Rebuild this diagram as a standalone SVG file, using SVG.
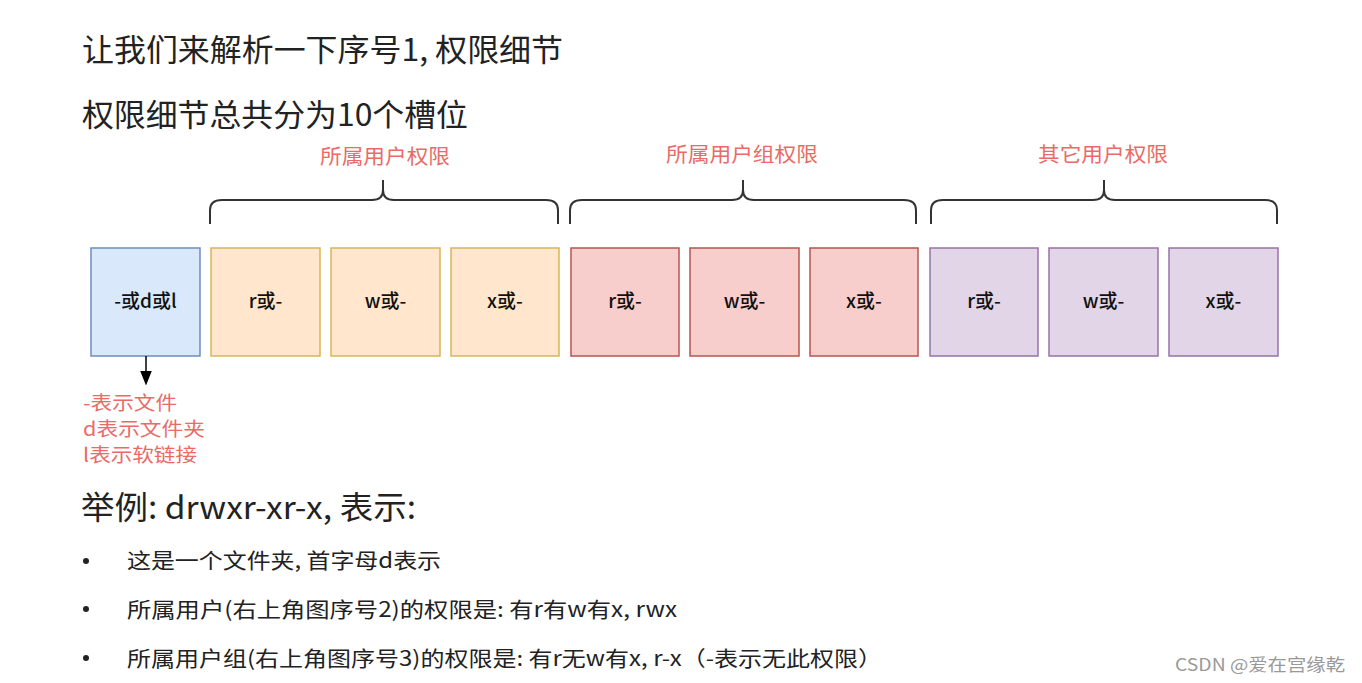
<svg xmlns="http://www.w3.org/2000/svg" width="1362" height="683" viewBox="0 0 1362 683">
<style>
text{font-family:"Noto Sans CJK SC","Noto Sans",sans-serif}
.t{font-size:31px;fill:#222}
.bl{font-size:19px;fill:#111;text-anchor:middle;font-weight:500}
.lab{font-size:20px;fill:#ea6b66;text-anchor:middle}
.note{font-size:19px;fill:#ea6b66}
.b{font-size:21px;fill:#222}
.br{fill:none;stroke:#333;stroke-width:2}
.k0{fill:#dae8fc;stroke:#6c8ebf;stroke-width:1.5}
.k1{fill:#ffe6cc;stroke:#d6b656;stroke-width:1.5}
.k2{fill:#f8cecc;stroke:#b85450;stroke-width:1.5}
.k3{fill:#e1d5e7;stroke:#9673a6;stroke-width:1.5}
</style>
<defs><marker id="ar" markerWidth="10" markerHeight="10" refX="5" refY="5" orient="auto"><path d="M0,1 L10,5 L0,9 Z" fill="#000"/></marker></defs>
<rect width="1362" height="683" fill="#fff"/>
<text class="t" x="82" y="61" textLength="481" lengthAdjust="spacingAndGlyphs">让我们来解析一下序号1, 权限细节</text>
<text class="t" x="82" y="126" textLength="386" lengthAdjust="spacingAndGlyphs">权限细节总共分为10个槽位</text>
<g id="braces">
<path class="br" d="M210,224 V210 Q210,200 222,200 H372 Q383,200 383,190 V180 M383,190 Q383,200 394,200 H546 Q558,200 558,210 V224"/>
<path class="br" d="M570,224 V210 Q570,200 582,200 H732 Q743,200 743,190 V180 M743,190 Q743,200 754,200 H904 Q916,200 916,210 V224"/>
<path class="br" d="M931,224 V210 Q931,200 943,200 H1093 Q1104,200 1104,190 V180 M1104,190 Q1104,200 1115,200 H1265 Q1277,200 1277,210 V224"/>
<text class="lab" x="385" y="164" textLength="130" lengthAdjust="spacingAndGlyphs">所属用户权限</text>
<text class="lab" x="742" y="162" textLength="152" lengthAdjust="spacingAndGlyphs">所属用户组权限</text>
<text class="lab" x="1103" y="162" textLength="130" lengthAdjust="spacingAndGlyphs">其它用户权限</text>
</g>
<g id="n0"><rect class="k0" x="91" y="248" width="109" height="108"/><text class="bl" x="145.5" y="308">-或d或l</text></g>
<g id="n1"><rect class="k1" x="211" y="248" width="109" height="108"/><text class="bl" x="265.5" y="308">r或-</text></g>
<g id="n2"><rect class="k1" x="331" y="248" width="109" height="108"/><text class="bl" x="385.5" y="308">w或-</text></g>
<g id="n3"><rect class="k1" x="451" y="248" width="108" height="108"/><text class="bl" x="505" y="308">x或-</text></g>
<g id="n4"><rect class="k2" x="571" y="248" width="108" height="108"/><text class="bl" x="625" y="308">r或-</text></g>
<g id="n5"><rect class="k2" x="690" y="248" width="109" height="108"/><text class="bl" x="744.5" y="308">w或-</text></g>
<g id="n6"><rect class="k2" x="810" y="248" width="108" height="108"/><text class="bl" x="864" y="308">x或-</text></g>
<g id="n7"><rect class="k3" x="930" y="248" width="108" height="108"/><text class="bl" x="984" y="308">r或-</text></g>
<g id="n8"><rect class="k3" x="1049" y="248" width="109" height="108"/><text class="bl" x="1103.5" y="308">w或-</text></g>
<g id="n9"><rect class="k3" x="1169" y="248" width="109" height="108"/><text class="bl" x="1223.5" y="308">x或-</text></g>
<g id="connectors"><line x1="146" y1="356" x2="146" y2="378" stroke="#000" stroke-width="1.5" marker-end="url(#ar)"/></g>
<g id="notes">
<text class="note" x="83" y="410" textLength="94" lengthAdjust="spacingAndGlyphs">-表示文件</text>
<text class="note" x="83" y="436" textLength="122" lengthAdjust="spacingAndGlyphs">d表示文件夹</text>
<text class="note" x="83" y="462" textLength="114" lengthAdjust="spacingAndGlyphs">l表示软链接</text>
</g>
<text x="81" y="519" style="font-size:32px;fill:#222" textLength="335" lengthAdjust="spacingAndGlyphs">举例: drwxr-xr-x, 表示:</text>
<g id="bullets">
<circle cx="86" cy="561" r="3" fill="#222"/><text class="b" x="127" y="568" textLength="314" lengthAdjust="spacingAndGlyphs">这是一个文件夹, 首字母d表示</text>
<circle cx="86" cy="609" r="3" fill="#222"/><text class="b" x="127" y="617" textLength="550" lengthAdjust="spacingAndGlyphs">所属用户(右上角图序号2)的权限是: 有r有w有x, rwx</text>
<circle cx="86" cy="658" r="3" fill="#222"/><text class="b" x="127" y="666" textLength="755" lengthAdjust="spacingAndGlyphs">所属用户组(右上角图序号3)的权限是: 有r无w有x, r-x（-表示无此权限）</text>
</g>
<text x="1175" y="671" style="font-size:17px;fill:#999" textLength="170" lengthAdjust="spacingAndGlyphs">CSDN @爱在宫缘乾</text>
</svg>
